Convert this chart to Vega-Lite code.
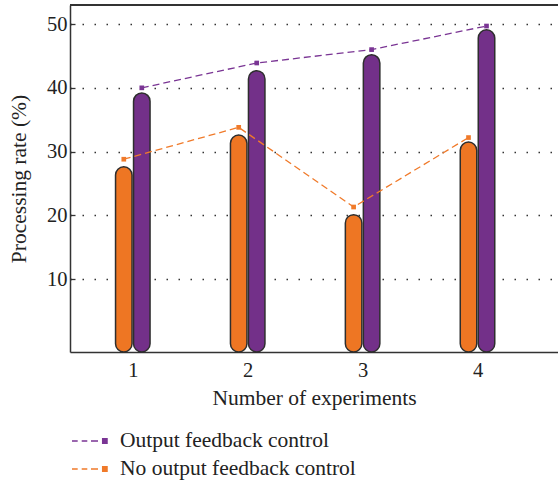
{
  "$schema": "https://vega.github.io/schema/vega-lite/v6.json",
  "width": 488,
  "height": 347,
  "autosize": {"type": "none"},
  "padding": {"left": 70, "top": 5, "right": 0, "bottom": 131},
  "background": "white",
  "config": {
    "view": {"stroke": null},
    "font": "Liberation Serif",
    "axis": {"labelFont": "Liberation Serif", "titleFont": "Liberation Serif", "labelColor": "#222", "titleColor": "#222", "titleFontWeight": "normal", "domainColor": "#333", "domainWidth": 1.5}
  },
  "data": {
    "values": [
      {"exp": 1, "series": "No output feedback control", "bar": 27.6, "line": 28.8},
      {"exp": 2, "series": "No output feedback control", "bar": 32.6, "line": 33.8},
      {"exp": 3, "series": "No output feedback control", "bar": 20.1, "line": 21.3},
      {"exp": 4, "series": "No output feedback control", "bar": 31.5, "line": 32.2},
      {"exp": 1, "series": "Output feedback control", "bar": 39.2, "line": 40.0},
      {"exp": 2, "series": "Output feedback control", "bar": 42.7, "line": 43.9},
      {"exp": 3, "series": "Output feedback control", "bar": 45.2, "line": 46.0},
      {"exp": 4, "series": "Output feedback control", "bar": 49.1, "line": 49.7}
    ]
  },
  "encoding": {
    "x": {
      "field": "exp", "type": "quantitative",
      "scale": {"domain": [0.497, 4.657], "nice": false, "zero": false},
      "axis": {"values": [1, 2, 3, 4], "format": "d", "ticks": false, "grid": false, "labelFontSize": 20.5, "labelPadding": 8, "title": "Number of experiments", "titleFontSize": 21.5, "titlePadding": 7}
    },
    "y": {
      "field": "bar", "type": "quantitative",
      "scale": {"domain": [-1.45, 53], "nice": false, "zero": false},
      "axis": {"values": [10, 20, 30, 40, 50], "tickSize": -5, "tickColor": "#333", "tickWidth": 1.3, "labelFontSize": 20.5, "labelPadding": 8, "grid": true, "gridDash": [1.5, 10.5], "gridColor": "#333", "gridWidth": 1.3, "title": "Processing rate (%)", "titleFontSize": 21.5, "titlePadding": 16}
    }
  },
  "layer": [
    {"mark": {"type": "rule", "color": "#333", "strokeWidth": 1.5}, "encoding": {"y": {"datum": 53}, "x": null}},
    {
      "transform": [{"filter": "datum.series === 'No output feedback control'"}],
      "mark": {"type": "bar", "width": 16.5, "xOffset": -9, "cornerRadius": 8.25, "fill": "#ee7623", "stroke": "#2e2e2e", "strokeWidth": 1.5},
      "encoding": {"y2": {"datum": -1.45}}
    },
    {
      "transform": [{"filter": "datum.series === 'Output feedback control'"}],
      "mark": {"type": "bar", "width": 16.5, "xOffset": 9, "cornerRadius": 8.25, "fill": "#733089", "stroke": "#2e2e2e", "strokeWidth": 1.5},
      "encoding": {"y2": {"datum": -1.45}}
    },
    {
      "transform": [{"filter": "datum.series === 'No output feedback control'"}],
      "mark": {"type": "line", "xOffset": -9, "strokeDash": [7, 4], "strokeWidth": 1.3},
      "encoding": {"y": {"field": "line", "type": "quantitative"}, "color": {"field": "series", "type": "nominal", "scale": {"domain": ["Output feedback control", "No output feedback control"], "range": ["#7a3594", "#f07a2a"]}, "legend": {"orient": "none", "legendX": 1, "legendY": 425, "direction": "vertical", "title": null, "labelFont": "Liberation Serif", "labelFontSize": 21.5, "labelColor": "#222", "labelLimit": 500, "labelOffset": 27, "rowPadding": 6, "symbolSize": 400, "symbolStrokeWidth": 1.5, "symbolType": "M-1,0H-0.43M-0.03,0H0.53M0.9,0H1.6M2.07,-0.22H2.5V0.22H2.07Z", "encoding": {"symbols": {"update": {"fill": {"scale": "color", "field": "value"}}}}}}}
    },
    {
      "transform": [{"filter": "datum.series === 'No output feedback control'"}],
      "mark": {"type": "point", "xOffset": -9, "shape": "square", "filled": true, "size": 22, "opacity": 1},
      "encoding": {"y": {"field": "line", "type": "quantitative"}, "color": {"field": "series", "type": "nominal"}}
    },
    {
      "transform": [{"filter": "datum.series === 'Output feedback control'"}],
      "mark": {"type": "line", "xOffset": 9, "strokeDash": [7, 4], "strokeWidth": 1.3},
      "encoding": {"y": {"field": "line", "type": "quantitative"}, "color": {"field": "series", "type": "nominal"}}
    },
    {
      "transform": [{"filter": "datum.series === 'Output feedback control'"}],
      "mark": {"type": "point", "xOffset": 9, "shape": "square", "filled": true, "size": 22, "opacity": 1},
      "encoding": {"y": {"field": "line", "type": "quantitative"}, "color": {"field": "series", "type": "nominal"}}
    }
  ]
}
